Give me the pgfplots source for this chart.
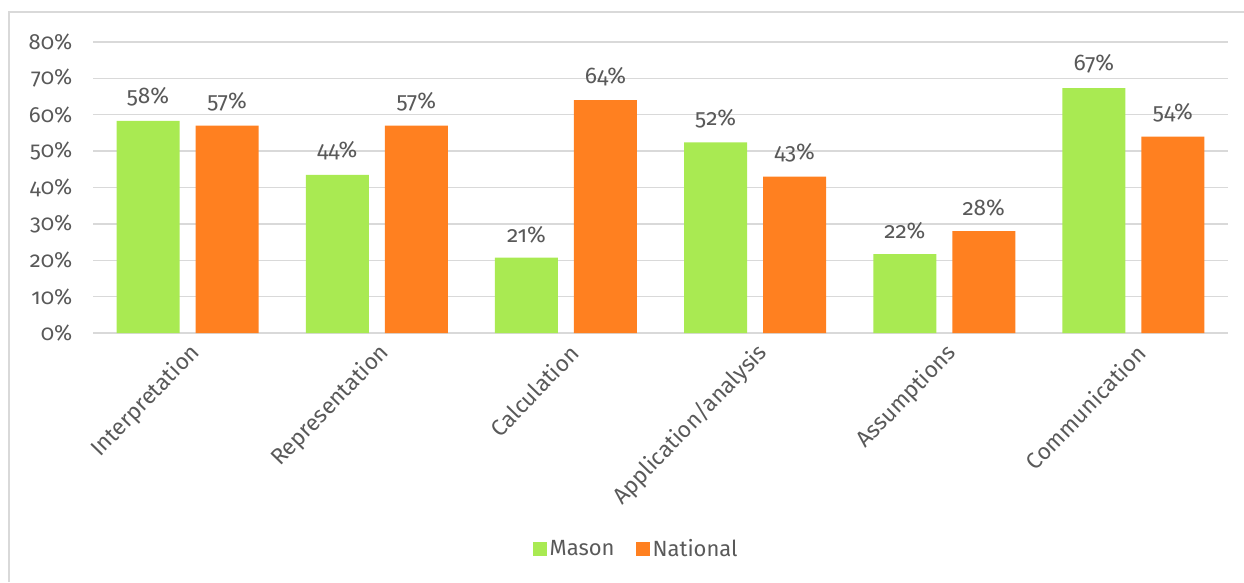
\documentclass[border=0pt]{standalone}
\usepackage{pgfplots}
\pgfplotsset{compat=1.18}
\usepackage{fontspec}
\setmainfont{Fira Sans}[Numbers=OldStyle]
\definecolor{mgreen}{RGB}{169,234,82}
\definecolor{morange}{RGB}{255,128,32}
\definecolor{tgray}{RGB}{89,89,89}
\definecolor{ggray}{RGB}{217,217,217}
\begin{document}
\begin{tikzpicture}
\draw[ggray, line width=1.2pt] (6.75pt,0pt) -- (6.75pt,427.5pt) -- (940pt,427.5pt);
\begin{axis}[
  at={(69.75pt,186.75pt)}, anchor=south west,
  scale only axis, width=851.25pt, height=218.25pt,
  ybar=12pt, bar width=47.25pt,
  xmin=-0.5, xmax=5.5, ymin=0, ymax=80,
  xtick=data,
  xticklabels={Interpretation,Representation,Calculation,Application/analysis,Assumptions,Communication},
  ytick={0,10,...,80},
  yticklabel={\pgfmathprintnumber{\tick}\%},
  /pgf/number format/assume math mode=true,
  major tick length=0pt,
  axis line style={draw=none},
  ymajorgrids, grid style={ggray, line width=1.1pt},
  tick label style={text=tgray},
  yticklabel style={anchor=east, xshift=-12pt, font=\fontsize{16.5}{19}\selectfont},
  xticklabel style={rotate=46, anchor=east, yshift=-13pt, xshift=-1pt, font=\fontsize{17}{20}\selectfont},
  nodes near coords={\pgfmathprintnumber[fixed,precision=0]{\pgfplotspointmeta}\%},
  nodes near coords style={text=tgray, font=\fontsize{17}{20}\selectfont, anchor=south, yshift=7.5pt},
  legend columns=2,
  legend style={at={(0.479,-0.742)}, anchor=center, draw=none, fill=none,
    font=\fontsize{16.5}{19}\selectfont, text=tgray,
    /tikz/every even column/.append style={column sep=14pt},
    inner sep=0pt},
  legend image code/.code={\fill[#1] (0pt,-5.25pt) rectangle (10.5pt,5.25pt);},
  clip=false,
]
\addplot[fill=mgreen, draw=none] coordinates {(0,58.3) (1,43.5) (2,20.7) (3,52.4) (4,21.7) (5,67.3)};
\addplot[fill=morange, draw=none] coordinates {(0,57) (1,57) (2,64) (3,43) (4,28) (5,54)};
\legend{Mason,National}
\end{axis}
\pgfresetboundingbox
\useasboundingbox (0pt,0pt) rectangle (933pt,436.5pt);
\end{tikzpicture}
\end{document}
